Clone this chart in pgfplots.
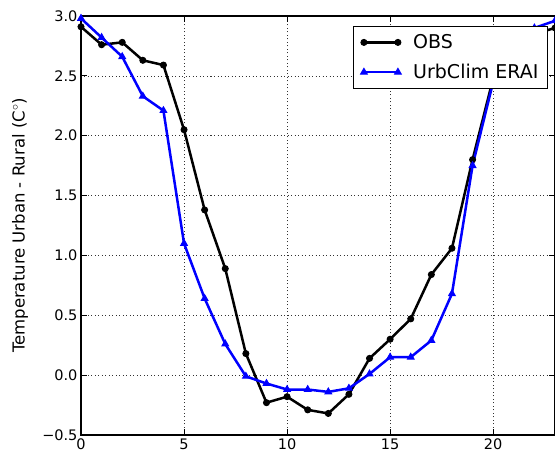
\documentclass[border=0pt]{standalone}
\usepackage{fontspec}
\setmainfont{DejaVu Sans}
\usepackage{pgfplots}
\pgfplotsset{compat=1.18}
\begin{document}
\begin{tikzpicture}
\begin{axis}[name=ax, scale only axis, width=474pt, height=419pt,
  xmin=0, xmax=23, ymin=-0.5, ymax=3.0,
  xtick={0,5,10,15,20}, xticklabels={0,5,10,15,20},
  ytick={-0.5,0,0.5,1,1.5,2,2.5,3},
  yticklabels={−0.5,0.0,0.5,1.0,1.5,2.0,2.5,3.0},
  tick label style={font=\fontsize{14.5}{16}\selectfont},
  tick align=inside, major tick length=6pt,
  tick style={black, line width=0.8pt},
  grid=major, grid style={black!80, line width=0.5pt, dash pattern=on 1pt off 2.5pt},
  axis line style={line width=1.2pt},
  ylabel={Temperature Urban - Rural (C$^\circ$)},
  ylabel style={font=\fontsize{16.5}{18}\selectfont, at={(axis description cs:-0.1287,0.5)}, anchor=center},
  clip=true,
  legend style={at={(1,1)}, anchor=north east, xshift=-7pt, yshift=-10pt,
    draw=black, line width=1.2pt, font=\fontsize{19}{22}\selectfont,
    inner xsep=7pt, inner ysep=6pt, row sep=10pt, column sep=10pt, cells={anchor=west}},
  legend image code/.code={\draw[#1] plot coordinates {(0pt,0pt) (34pt,0pt)};},
]
\addplot[black, line width=2.5pt, mark=*, mark size=3pt, mark options={solid, fill=black, line width=1pt}] coordinates {
(0,2.91) (1,2.76) (2,2.78) (3,2.63) (4,2.59) (5,2.05) (6,1.38) (7,0.89) (8,0.18) (9,-0.23)
(10,-0.18) (11,-0.29) (12,-0.32) (13,-0.16) (14,0.14) (15,0.30) (16,0.47) (17,0.84) (18,1.06)
(19,1.80) (20,2.48) (21,2.80) (22,2.85) (23,2.90)};
\addlegendentry{OBS}
\addplot[blue, line width=2.5pt, mark=triangle*, mark size=3.8pt, mark options={solid, fill=blue, line width=1pt}] coordinates {
(0,2.98) (1,2.82) (2,2.66) (3,2.33) (4,2.21) (5,1.10) (6,0.64) (7,0.26) (8,-0.01) (9,-0.07)
(10,-0.12) (11,-0.12) (12,-0.14) (13,-0.11) (14,0.01) (15,0.15) (16,0.15) (17,0.29) (18,0.68)
(19,1.75) (20,2.45) (21,2.85) (22,2.90) (23,2.96)};
\addlegendentry{UrbClim ERAI}
\end{axis}
\pgfresetboundingbox
\path ([xshift=-81pt,yshift=-22pt]ax.south west) rectangle ([yshift=16pt]ax.north east);
\end{tikzpicture}
\end{document}
